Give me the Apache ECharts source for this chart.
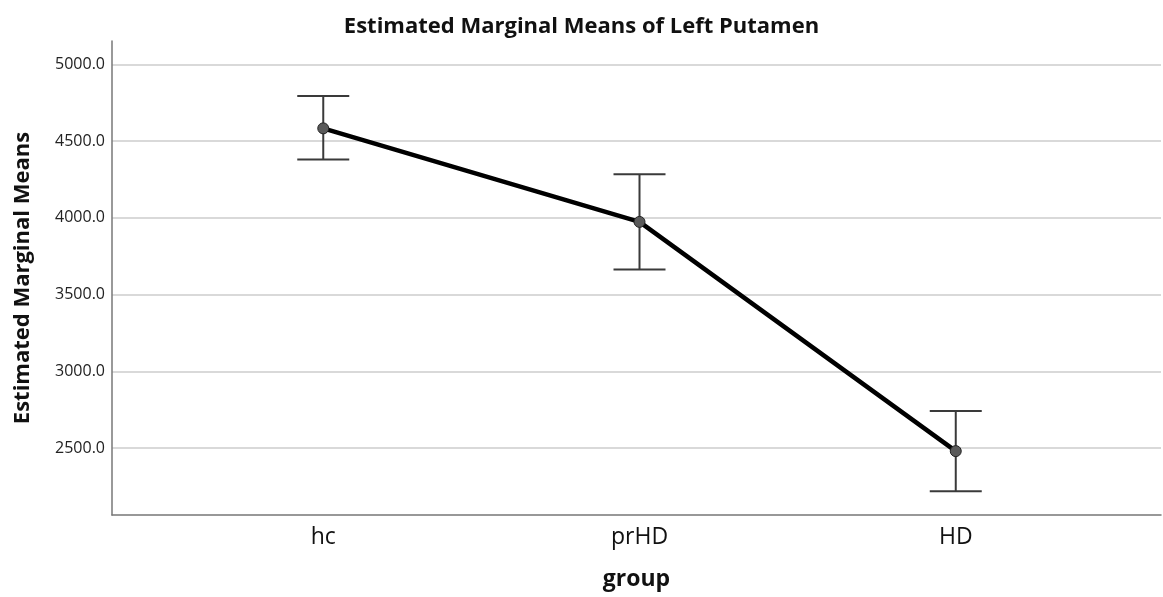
<!DOCTYPE html>
<html>
<head>
<meta charset="utf-8">
<title>Estimated Marginal Means of Left Putamen</title>
<script src="https://cdn.jsdelivr.net/npm/echarts@6/dist/echarts.min.js"></script>
<style>
  html, body { margin: 0; padding: 0; background: #fff; }
  #chart { width: 1163px; height: 597px; }
</style>
</head>
<body>
<div id="chart"></div>
<script>
// Groups and their estimated marginal means with error-bar limits
const groups = ['hc', 'prHD', 'HD'];
const means = [4583, 3974, 2481];
const upper = [4793, 4285, 2742];
const lower = [4381, 3664, 2220];
const yTicks = [2500, 3000, 3500, 4000, 4500, 5000];

const FONT = '"Open Sans", "Noto Sans", sans-serif';

const chart = echarts.init(document.getElementById('chart'), null, { renderer: 'canvas' });

const lineData = means.map((m, i) => [i, m]);
const barData = groups.map((g, i) => [i, lower[i], upper[i]]);

chart.setOption({
  animation: false,
  backgroundColor: '#ffffff',
  title: {
    text: 'Estimated Marginal Means of Left Putamen',
    left: 'center',
    top: 11,
    textStyle: { fontFamily: FONT, fontSize: 22, fontWeight: 'bold', color: '#111' }
  },
  grid: { left: 112, right: 2, top: 41, bottom: 82, containLabel: false, outerBoundsMode: 'none' },
  xAxis: {
    type: 'value',
    min: -0.668,
    max: 2.649,
    name: 'group',
    nameLocation: 'middle',
    nameGap: 53,
    nameTextStyle: { fontFamily: FONT, fontSize: 23, fontWeight: 'bold', color: '#111' },
    axisLine: { show: true, onZero: false, lineStyle: { color: '#777', width: 1.5 } },
    axisTick: { show: false, customValues: [0, 1, 2] },
    splitLine: { show: false },
    axisLabel: {
      customValues: [0, 1, 2],
      formatter: v => groups[Math.round(v)],
      fontFamily: FONT, fontSize: 23, color: '#111', margin: 11
    }
  },
  yAxis: {
    type: 'value',
    min: 2065,
    max: 5152,
    name: 'Estimated Marginal Means',
    nameLocation: 'middle',
    nameGap: 78,
    nameTextStyle: { fontFamily: FONT, fontSize: 22, fontWeight: 'bold', color: '#111' },
    axisLine: { show: true, onZero: false, lineStyle: { color: '#777', width: 1.5 } },
    axisTick: { show: false, customValues: yTicks },
    axisLabel: {
      customValues: yTicks,
      formatter: v => v.toFixed(1),
      fontFamily: FONT, fontSize: 16, color: '#222', margin: 7
    },
    splitLine: { show: true, lineStyle: { color: '#cccccc', width: 1.5 } }
  },
  series: [
    {
      type: 'custom',
      name: 'error',
      z: 3,
      data: barData,
      renderItem: (params, api) => {
        const x = api.value(0);
        const lo = api.coord([x, api.value(1)]);
        const hi = api.coord([x, api.value(2)]);
        const half = 26;
        const style = { stroke: '#3a3a3a', lineWidth: 2 };
        return {
          type: 'group',
          children: [
            { type: 'line', shape: { x1: lo[0], y1: lo[1], x2: hi[0], y2: hi[1] }, style },
            { type: 'line', shape: { x1: hi[0] - half, y1: hi[1], x2: hi[0] + half, y2: hi[1] }, style },
            { type: 'line', shape: { x1: lo[0] - half, y1: lo[1], x2: lo[0] + half, y2: lo[1] }, style }
          ]
        };
      }
    },
    {
      type: 'line',
      name: 'mean',
      z: 4,
      data: lineData,
      lineStyle: { color: '#000', width: 4.5 },
      symbol: 'circle',
      symbolSize: 11,
      itemStyle: { color: '#5a5a5a', borderColor: '#222', borderWidth: 1 }
    }
  ]
});
</script>
</body>
</html>
